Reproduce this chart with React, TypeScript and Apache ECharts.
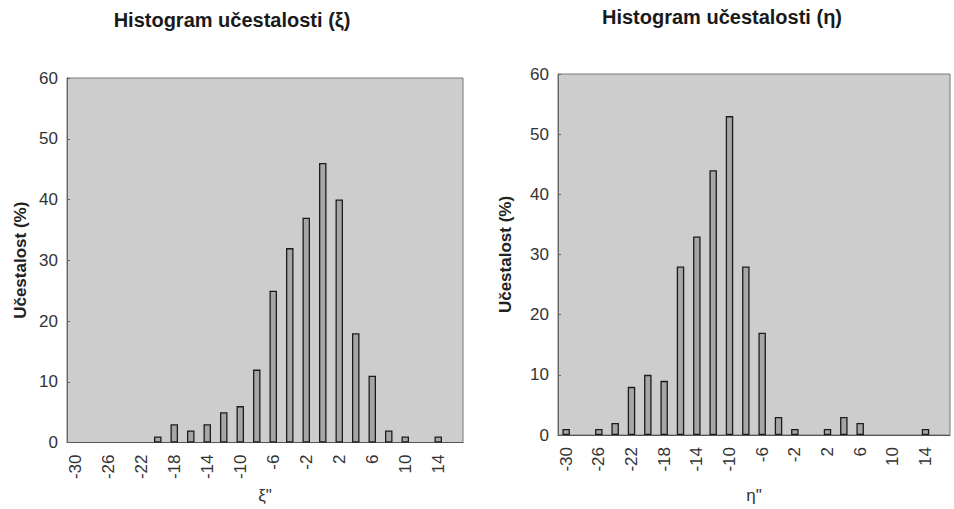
import React, { useEffect, useRef } from "react";
import * as echarts from "echarts";

const categories = [
  "-30", "-28", "-26", "-24", "-22", "-20", "-18", "-16", "-14", "-12", "-10", "-8",
  "-6", "-4", "-2", "0", "2", "4", "6", "8", "10", "12", "14", "16",
];
// ξ histogram (%), null = no bar
const xiValues = [
  null, null, null, null, null, 1, 3, 2, 3, 5, 6, 12,
  25, 32, 37, 46, 40, 18, 11, 2, 1, null, 1, null,
];
// η histogram (%)
const etaValues = [
  1, null, 1, 2, 8, 10, 9, 28, 33, 44, 53, 28,
  17, 3, 1, null, 1, 3, 2, null, null, null, 1, null,
];
const yTicks = { min: 0, max: 60, interval: 10 };
const titles = ["Histogram učestalosti (ξ)", "Histogram učestalosti (η)"];
const xNames = ["ξ\"", "η\""];
const yName = "Učestalost (%)";

const FONT = "Liberation Sans, Arial, sans-serif";

export default function App() {
  const ref = useRef<HTMLDivElement>(null);
  useEffect(() => {
    if (!ref.current) return;
    const chart = echarts.init(ref.current, null, { renderer: "svg" });
    const grids = [
      { left: 67, top: 78, width: 396, height: 365 },
      { left: 558, top: 74, width: 392, height: 366 },
    ];
    const xAxis = [0, 1].map((i) => ({
      type: "category",
      gridIndex: i,
      data: categories,
      name: xNames[i],
      nameLocation: "middle",
      nameGap: i === 0 ? 44 : 52,
      nameTextStyle: { fontFamily: FONT, fontSize: 17, color: "#333" },
      axisLine: { show: true, lineStyle: { color: "#555", width: 1 } },
      axisTick: { show: false },
      axisLabel: {
        interval: 1,
        rotate: 90,
        margin: 12,
        fontFamily: FONT,
        fontSize: 17,
        color: "#333",
      },
      splitLine: { show: false },
    }));
    const yAxis = [0, 1].map((i) => ({
      type: "value",
      gridIndex: i,
      min: yTicks.min,
      max: yTicks.max,
      interval: yTicks.interval,
      name: yName,
      nameLocation: "middle",
      nameRotate: 90,
      nameGap: i === 0 ? 38 : 44,
      nameTextStyle: { fontFamily: FONT, fontSize: 17, fontWeight: "bold", color: "#222" },
      axisLine: { show: true, lineStyle: { color: "#666", width: 1 } },
      axisTick: { show: true, inside: true, length: 3, lineStyle: { color: "#666" } },
      axisLabel: { margin: 9, fontFamily: FONT, fontSize: 17, color: "#333" },
      splitLine: { show: false },
    }));
    const barStyle = {
      color: "#a6a6a6",
      borderColor: "#1c1c1c",
      borderWidth: 1.3,
    };
    chart.setOption({
      animation: false,
      backgroundColor: "#ffffff",
      grid: grids.map((g) => ({
        ...g,
        show: true,
        backgroundColor: "#cdcdcd",
        borderColor: "#777",
        borderWidth: 1,
      })),
      xAxis,
      yAxis,
      series: [
        {
          type: "bar",
          xAxisIndex: 0,
          yAxisIndex: 0,
          data: xiValues,
          barWidth: 7.5,
          itemStyle: barStyle,
        },
        {
          type: "bar",
          xAxisIndex: 1,
          yAxisIndex: 1,
          data: etaValues,
          barWidth: 7.5,
          itemStyle: barStyle,
        },
      ],
      graphic: [
        {
          type: "text",
          x: 232,
          y: 20,
          style: {
            text: titles[0],
            textAlign: "center",
            textVerticalAlign: "middle",
            font: `bold 20px ${FONT}`,
            fill: "#1a1a1a",
          },
        },
        {
          type: "text",
          x: 722,
          y: 17,
          style: {
            text: titles[1],
            textAlign: "center",
            textVerticalAlign: "middle",
            font: `bold 20px ${FONT}`,
            fill: "#1a1a1a",
          },
        },
      ],
    });
    return () => chart.dispose();
  }, []);
  return (
    <div
      ref={ref}
      style={{ position: "fixed", left: 0, top: 0, width: 954, height: 509 }}
    />
  );
}
